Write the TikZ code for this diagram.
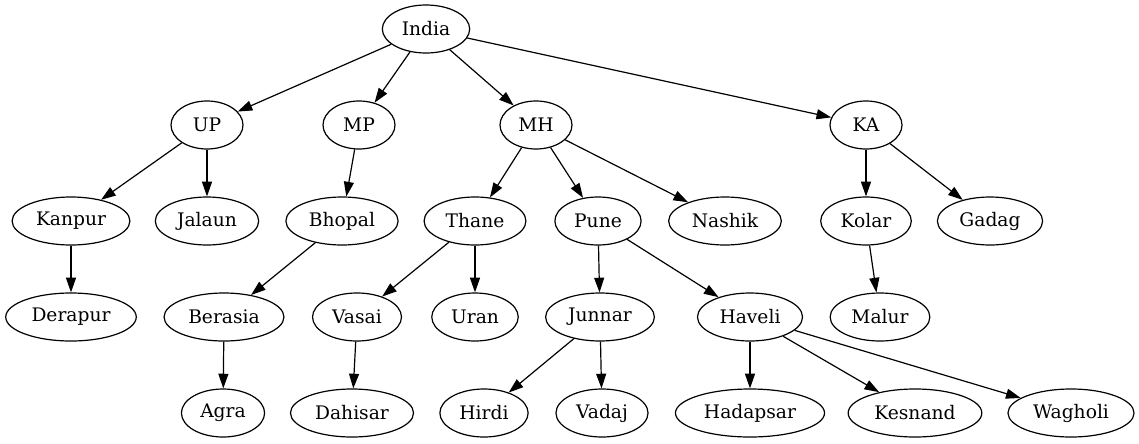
\documentclass[tikz,border=0pt]{standalone}
\usepackage{fontspec}
\setmainfont{DejaVu Serif}
\usetikzlibrary{arrows.meta,shapes.geometric}

\def\treescale{0.75pt}

\begin{document}
\begin{tikzpicture}[x=\treescale, y=-\treescale,
    place/.style={ellipse, draw, line width=0.9pt, inner xsep=5pt, inner ysep=2pt,
      minimum width=54pt, minimum height=36pt, font=\fontsize{14}{16}\selectfont},
    link/.style={-{Triangle[length=11pt,width=7.5pt]}, line width=0.9pt}]
  \useasboundingbox (0,0) rectangle (1139,443);

  % root and states
  \node[place] (india) at (426,29) {India};
  \node[place] (up) at (207,125) {UP};
  \node[place] (mp) at (359,125) {MP};
  \node[place] (mh) at (536,125) {MH};
  \node[place] (ka) at (866,125) {KA};

  % districts
  \node[place] (kanpur) at (71,221) {Kanpur};
  \node[place] (jalaun) at (207,221) {Jalaun};
  \node[place] (bhopal) at (342,221) {Bhopal};
  \node[place] (thane) at (475,221) {Thane};
  \node[place] (pune) at (598,221) {Pune};
  \node[place] (nashik) at (725,221) {Nashik};
  \node[place] (kolar) at (866,221) {Kolar};
  \node[place] (gadag) at (990,221) {Gadag};

  % towns
  \node[place] (derapur) at (71,317) {Derapur};
  \node[place] (berasia) at (224,317) {Berasia};
  \node[place] (vasai) at (357,317) {Vasai};
  \node[place] (uran) at (475,317) {Uran};
  \node[place] (junnar) at (600,317) {Junnar};
  \node[place] (haveli) at (750,317) {Haveli};
  \node[place] (malur) at (880,317) {Malur};

  % villages
  \node[place] (agra) at (223,413) {Agra};
  \node[place] (dahisar) at (352,413) {Dahisar};
  \node[place] (hirdi) at (484,413) {Hirdi};
  \node[place] (vadaj) at (602,413) {Vadaj};
  \node[place] (hadapsar) at (750,413) {Hadapsar};
  \node[place] (kesnand) at (915,413) {Kesnand};
  \node[place] (wagholi) at (1071,413) {Wagholi};

  \foreach \from/\to in {india/up, india/mp, india/mh, india/ka,
      up/kanpur, up/jalaun, mp/bhopal, mh/thane, mh/pune, mh/nashik,
      ka/kolar, ka/gadag, kanpur/derapur, bhopal/berasia, thane/vasai,
      thane/uran, pune/junnar, pune/haveli, kolar/malur, berasia/agra,
      vasai/dahisar, junnar/hirdi, junnar/vadaj, haveli/hadapsar,
      haveli/kesnand, haveli/wagholi}
    \draw[link] (\from) -- (\to);
\end{tikzpicture}
\end{document}
